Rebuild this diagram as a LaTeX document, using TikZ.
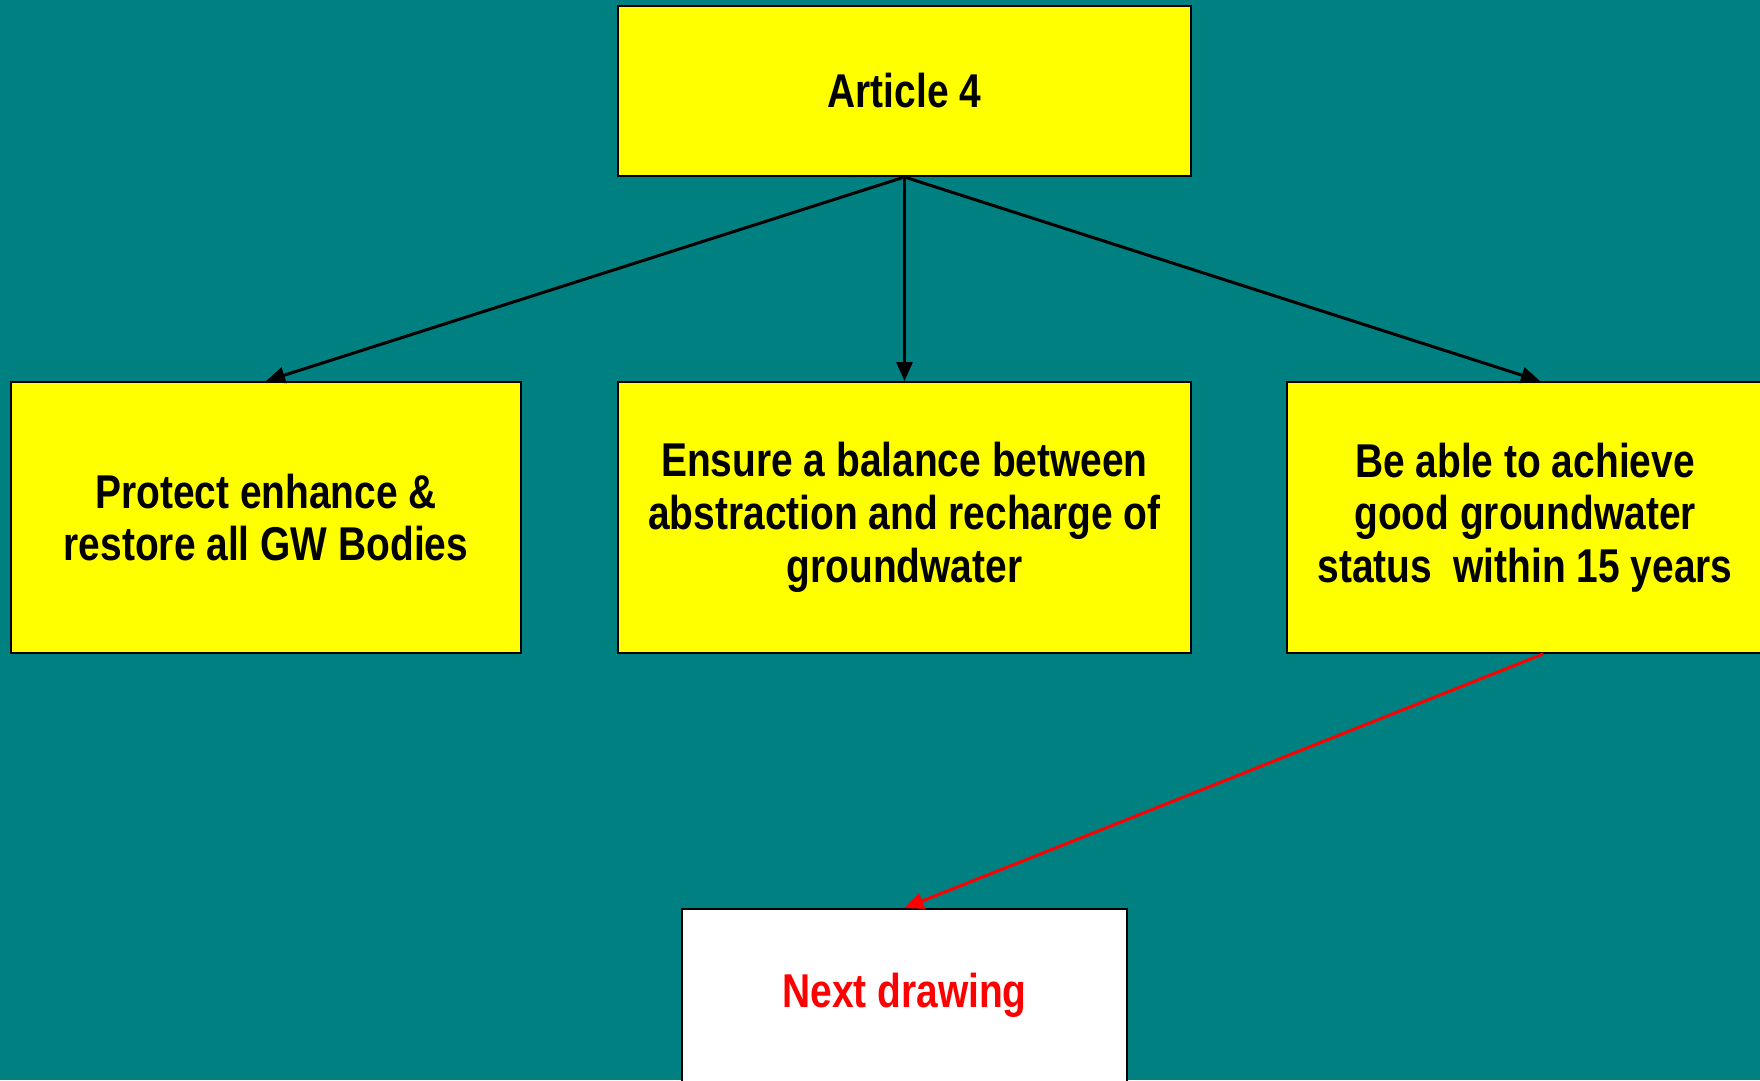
\documentclass[tikz,border=0pt]{standalone}
\usepackage{fontspec}
\setmainfont{Liberation Sans}[FakeStretch=0.82]
\usepackage{xcolor}
\usetikzlibrary{arrows.meta, positioning, calc}
\definecolor{teal}{HTML}{008080}
\definecolor{boxyellow}{HTML}{FFFF00}
\definecolor{nextred}{HTML}{FF0000}

\begin{document}
\begin{tikzpicture}[
  x=0.1mm, y=-0.1mm,
  goal/.style={rectangle, draw=black, line width=0.2mm, fill=boxyellow, align=center, font=\fontsize{13.5}{15}\selectfont\bfseries, inner sep=0pt},
  next/.style={goal, fill=white, text=nextred},
  arrow/.style={-{Triangle[length=1.9mm, width=1.6mm]}, line width=0.3mm},
]

  \useasboundingbox (0,0) rectangle (1760,1080);
  \fill[teal] (0,0) rectangle (1760,1080);
  \clip (0,0) rectangle (1760,1080);

  \node[goal, minimum width=57.3mm, minimum height=17mm] (article) at (904.5,91) {Article 4};
  \node[goal, minimum width=51mm, minimum height=27.1mm] (protect) at (266,517.5) {Protect enhance \&\\restore all GW Bodies};
  \node[goal, minimum width=57.3mm, minimum height=27.1mm] (balance) at (904.5,517.5) {Ensure a balance between\\abstraction and recharge of\\groundwater};
  \node[goal, minimum width=47.6mm, minimum height=27.1mm] (achieve) at (1525,517.5) {Be able to achieve\\good groundwater\\status\ \ within 15 years};
  \node[next, minimum width=44.5mm, minimum height=17.3mm] (drawing) at (904.5,995.5) {Next drawing};

  \draw[arrow] (article.south) -- (protect.north);
  \draw[arrow] (article.south) -- (balance.north);
  \draw[arrow] (article.south) -- ($(achieve.north)+(15,0)$);
  \draw[arrow, draw=nextred, fill=nextred] ($(achieve.south)+(18,0)$) -- (drawing.north);

\end{tikzpicture}
\end{document}
